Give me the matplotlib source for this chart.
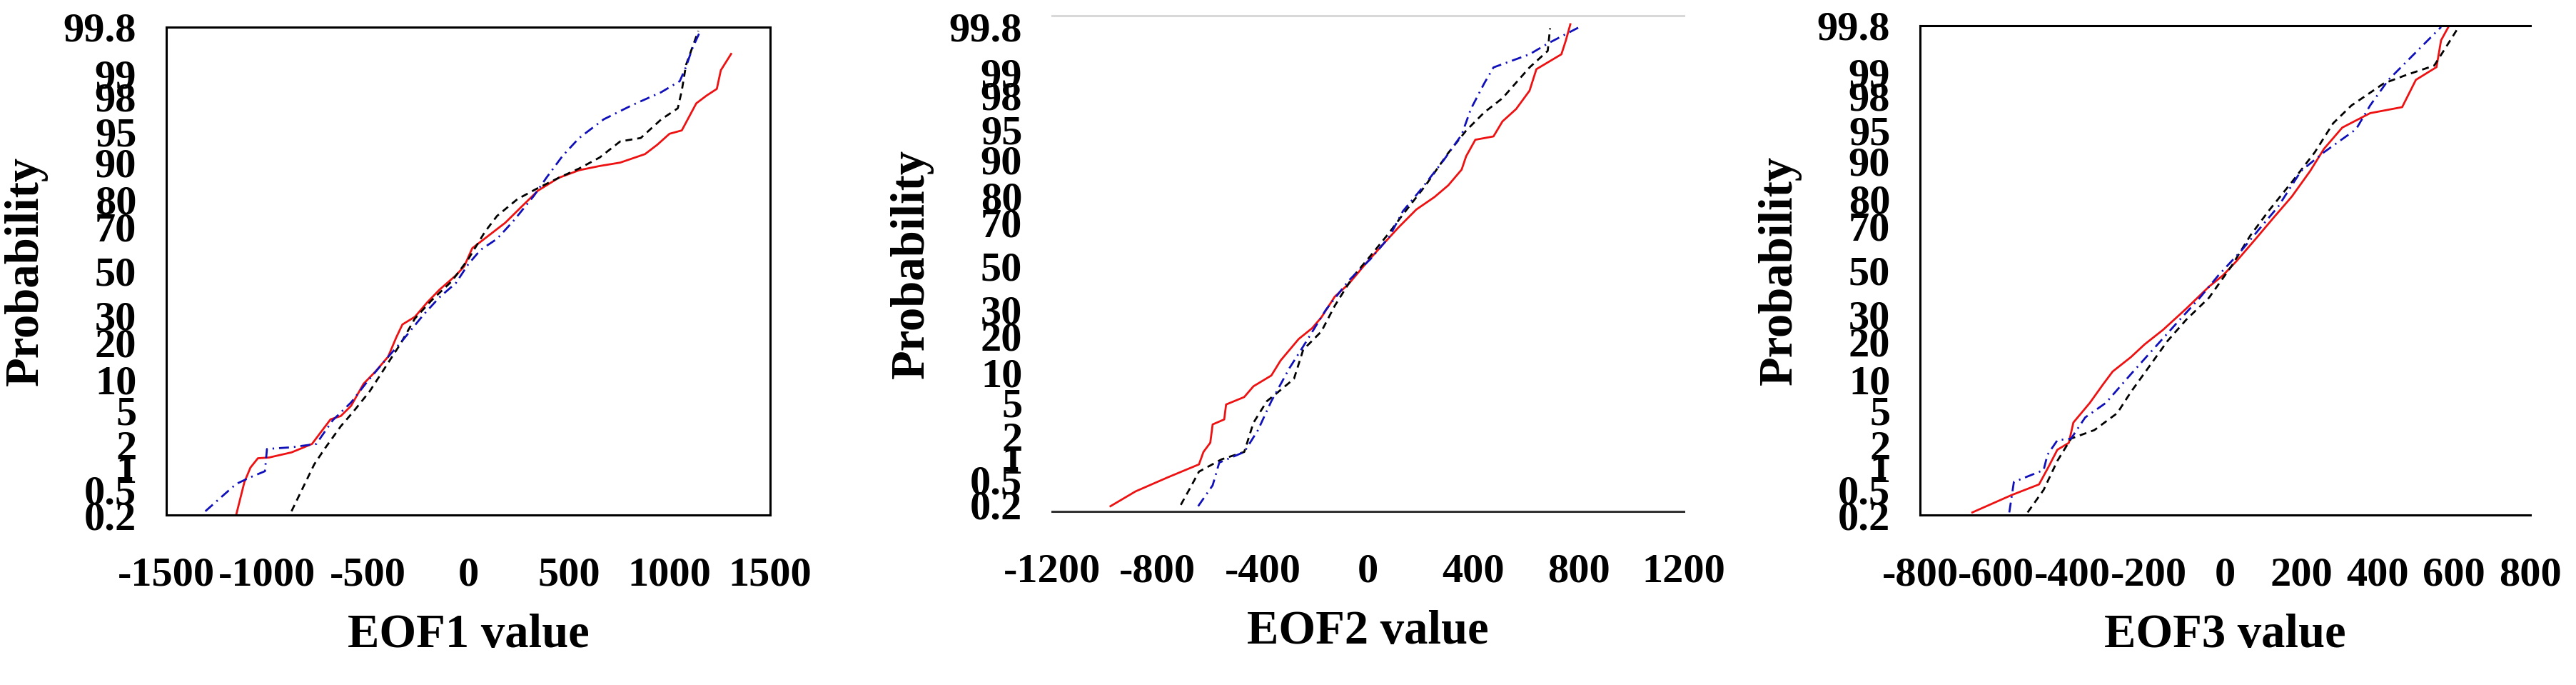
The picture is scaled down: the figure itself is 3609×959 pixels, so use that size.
import matplotlib
matplotlib.use("Agg")
import matplotlib.pyplot as plt
import numpy as np
from statistics import NormalDist

plt.rcParams['font.family'] = ['Liberation Serif', 'DejaVu Serif']
plt.rcParams['font.weight'] = 'bold'

# probability axis (percent) and the tick labels shown on it
prob_ticks = [0.2, 0.5, 1, 2, 5, 10, 20, 30, 50, 70, 80, 90, 95, 98, 99, 99.8]
prob_labels = ["0.2", "0.5", "1", "2", "5", "10", "20", "30", "50", "70", "80", "90", "95", "98", "99", "99.8"]

# --- EOF1 ---
eof1_red_x = [-1153, -1112, -1082, -1045, -990, -878, -816, -776, -735, -684, -633, -582, -520, -459, -398,
              -357, -327, -265, -204, -143, -61, -20, 20, 102, 184, 265, 347, 449, 551, 653, 755, 878, 939,
              1000, 1061, 1133, 1184, 1235, 1255, 1306]
eof1_red_p = [0.20, 0.64, 1.02, 1.36, 1.39, 1.62, 1.88, 2.07, 2.81, 4.01, 4.36, 5.59, 9.18, 11.90, 15.62,
              21.77, 26.43, 29.46, 35.57, 41.29, 48.01, 52.23, 60.64, 66.28, 71.57, 77.64, 82.89, 86.43, 88.30,
              89.25, 89.97, 91.62, 93.19, 94.74, 95.15, 97.61, 98.08, 98.42, 99.11, 99.48]
eof1_black_x = [-878, -816, -765, -714, -633, -571, -490, -408, -337, -265, -184, -82, 0, 82, 143, 245, 347,
                449, 551, 653, 755, 857, 959, 1041, 1061, 1082, 1143]
eof1_black_p = [0.23, 0.57, 1.13, 1.79, 3.36, 4.85, 7.78, 13.14, 19.49, 28.77, 36.32, 45.22, 55.57, 67.72,
                74.22, 80.23, 83.65, 86.43, 88.69, 90.99, 93.70, 94.18, 96.33, 97.26, 98.34, 99.25, 99.77]
eof1_blue_x = [-1306, -1224, -1153, -1082, -1010, -1000, -878, -755, -673, -582, -510, -408, -327, -224,
               -143, -61, 0, 61, 143, 224, 327, 388, 469, 551, 673, 816, 959, 1051, 1082, 1112, 1153]
eof1_blue_p = [0.23, 0.39, 0.60, 0.75, 0.91, 1.79, 1.88, 2.07, 3.92, 6.06, 9.18, 14.92, 20.61, 30.15, 37.83,
               44.43, 53.19, 59.87, 64.80, 72.24, 81.33, 86.43, 91.31, 94.18, 96.33, 97.50, 98.26, 98.75,
               99.20, 99.56, 99.77]

# --- EOF2 ---
eof2_red_x = [-978, -883, -762, -642, -625, -599, -590, -546, -539, -470, -435, -367, -332, -263, -212, -177,
              -126, -74, -5, 46, 115, 184, 253, 305, 356, 373, 408, 477, 511, 563, 614, 640, 735, 752, 769]
eof2_red_p = [0.19, 0.33, 0.54, 0.84, 1.25, 1.66, 2.81, 3.22, 4.75, 5.71, 7.35, 9.34, 12.71, 18.94, 22.66,
              26.76, 35.57, 41.29, 51.60, 58.71, 67.72, 75.17, 79.67, 83.40, 87.70, 90.66, 93.57, 94.06,
              95.91, 97.06, 98.26, 99.11, 99.46, 99.67, 99.82]
eof2_black_x = [-711, -676, -642, -556, -470, -435, -384, -349, -281, -246, -177, -126, -57, 12, 81, 133, 219,
                305, 373, 442, 511, 614, 683, 692]
eof2_black_p = [0.20, 0.37, 0.66, 0.99, 1.25, 2.94, 5.16, 6.18, 8.69, 15.62, 21.48, 31.56, 44.83, 55.17,
                65.54, 73.24, 83.40, 91.31, 94.84, 96.78, 97.83, 99.16, 99.52, 99.79]
eof2_blue_x = [-645, -590, -565, -470, -418, -367, -298, -246, -160, -74, 12, 81, 133, 201, 287, 356, 391,
               442, 477, 614, 683, 804]
eof2_blue_p = [0.19, 0.41, 0.89, 1.25, 2.39, 5.16, 10.93, 16.60, 29.81, 42.86, 53.59, 63.68, 74.54, 82.12,
               89.80, 94.29, 97.06, 98.61, 99.16, 99.46, 99.63, 99.80]

# --- EOF3 ---
eof3_red_x = [-663, -560, -488, -464, -440, -410, -398, -355, -320, -295, -247, -211, -163, -102, -42, -6, 30,
              78, 127, 175, 223, 259, 307, 380, 464, 500, 554, 566, 587]
eof3_red_p = [0.22, 0.41, 0.59, 1.02, 1.74, 2.12, 3.67, 5.94, 9.01, 11.70, 15.39, 19.22, 24.20, 32.64, 42.47,
              47.61, 54.38, 64.06, 73.24, 80.78, 87.90, 92.36, 95.35, 96.78, 97.26, 98.75, 99.16, 99.66, 99.80]
eof3_black_x = [-518, -476, -440, -404, -343, -283, -247, -199, -151, -102, -42, 18, 66, 114, 175, 235, 283,
                331, 416, 476, 548, 578, 608]
eof3_black_p = [0.22, 0.49, 1.25, 2.39, 3.01, 4.65, 7.64, 12.92, 20.33, 28.10, 37.45, 52.39, 65.91, 75.80,
                85.08, 91.77, 95.82, 97.38, 98.61, 98.93, 99.20, 99.56, 99.77]
eof3_blue_x = [-566, -554, -476, -466, -440, -404, -367, -313, -247, -187, -127, -66, -18, 42, 90, 139, 199,
               259, 343, 380, 428, 512, 566]
eof3_blue_p = [0.22, 0.64, 0.94, 1.50, 2.28, 2.39, 4.18, 5.94, 11.12, 17.88, 26.76, 37.45, 47.61, 59.10,
               68.79, 77.34, 87.90, 91.77, 95.15, 97.38, 98.75, 99.56, 99.79]

nd = NormalDist()
_ppf = np.vectorize(lambda p: nd.inv_cdf(min(max(p, 1e-6), 100 - 1e-6) / 100.0))
_cdf = np.vectorize(lambda z: nd.cdf(z) * 100.0)


def prob_fwd(p):
    return _ppf(np.asarray(p, dtype=float))


def prob_inv(z):
    return _cdf(np.asarray(z, dtype=float))


red_style = dict(color='#ee1111', lw=2.0, ls='-')
black_style = dict(color='black', lw=2.0, ls=(0, (3.5, 2.5)))
blue_style = dict(color='#1010bb', lw=2.0, ls=(0, (5, 2.5, 0.8, 2.5)))

fig = plt.figure(figsize=(36.09, 9.59), dpi=100)
W, H = 3609.0, 959.0

panels = [
    dict(rect=(233, 38, 1079, 721), xlim=(-1500, 1500), ylim=(0.2, 99.8),
         xticks=[-1500, -1000, -500, 0, 500, 1000, 1500], xmarks=[-1500, -500, 0, 500, 1000, 1500],
         ymarks=[0.2, 0.5, 1, 2, 20, 50, 70, 80, 90, 95, 98, 99, 99.8],
         xlabel="EOF1 value", red=(eof1_red_x, eof1_red_p), black=(eof1_black_x, eof1_black_p),
         blue=(eof1_blue_x, eof1_blue_p), spines=dict(top='black', right='black', left='black', bottom='black')),
    dict(rect=(1474, 22, 2359, 716), xlim=(-1200, 1200), ylim=(0.155, 99.871),
         xticks=[-1200, -800, -400, 0, 400, 800, 1200], xmarks=[-800, 0, 800],
         ymarks=[0.2, 0.5, 1, 2, 5, 20, 30, 50, 70, 80, 90, 95, 99, 99.8],
         xlabel="EOF2 value", red=(eof2_red_x, eof2_red_p), black=(eof2_black_x, eof2_black_p),
         blue=(eof2_blue_x, eof2_blue_p), spines=dict(top='#d8d8d8', right=None, left=None, bottom='#333333')),
    dict(rect=(2690, 36, 3545, 721), xlim=(-800, 800), ylim=(0.2, 99.8),
         xticks=[-800, -600, -400, -200, 0, 200, 400, 600, 800], xmarks=[-800, -400, -200, 0, 200, 600, 800],
         ymarks=[0.2, 1, 2, 5, 10, 80, 90, 95, 98, 99, 99.8],
         xlabel="EOF3 value", red=(eof3_red_x, eof3_red_p), black=(eof3_black_x, eof3_black_p),
         blue=(eof3_blue_x, eof3_blue_p), spines=dict(top='black', right=None, left='black', bottom='black')),
]

for pn in panels:
    x0, y0, x1, y1 = pn['rect']
    ax = fig.add_axes([x0 / W, 1 - y1 / H, (x1 - x0) / W, (y1 - y0) / H])
    ax.set_yscale('function', functions=(prob_fwd, prob_inv))

    ax.plot(*pn['red'], **red_style)
    ax.plot(*pn['black'], **black_style)
    ax.plot(*pn['blue'], **blue_style)

    ax.set_xlim(*pn['xlim'])
    ax.set_ylim(*pn['ylim'])

    # labels on zero-length major ticks, visible marks as minor ticks
    ax.set_yticks(prob_ticks)
    ax.set_yticklabels(prob_labels)
    ax.set_yticks(pn['ymarks'], minor=True)
    ax.set_xticks(pn['xticks'])
    ax.set_xticklabels([str(v) for v in pn['xticks']])
    ax.set_xticks(pn['xmarks'], minor=True)

    ax.tick_params(axis='y', which='major', length=0, pad=30, labelsize=42)
    ax.tick_params(axis='x', which='major', length=0, pad=42, labelsize=42)
    ax.tick_params(axis='y', which='minor', length=9, width=2, direction='out')
    ax.tick_params(axis='x', which='minor', length=11, width=2, direction='out')

    for side, col in pn['spines'].items():
        if col is None:
            ax.spines[side].set_visible(False)
        else:
            ax.spines[side].set_color(col)
            ax.spines[side].set_linewidth(2.2)

    ax.set_xlabel(pn['xlabel'], fontsize=48, fontweight='bold', labelpad=20)
    ax.set_ylabel("Probability", fontsize=48, fontweight='bold', labelpad=16)

fig.savefig("out.png", dpi=100)
